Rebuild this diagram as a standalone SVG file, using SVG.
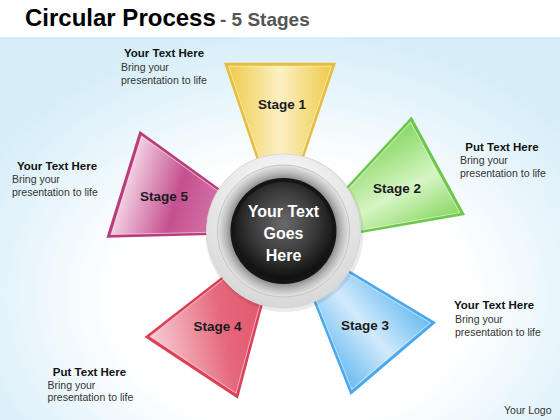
<svg xmlns="http://www.w3.org/2000/svg" xmlns:xlink="http://www.w3.org/1999/xlink" width="560" height="420" viewBox="0 0 560 420">
<defs>
<style>
.title{font-family:"Liberation Sans",Arial,sans-serif;font-weight:bold;font-size:24px;fill:#000}
.sub{font-family:"Liberation Sans",Arial,sans-serif;font-weight:bold;font-size:19px;fill:#555}
.hd{font-family:"Liberation Sans",Arial,sans-serif;font-weight:bold;font-size:11.5px;fill:#111;text-anchor:middle}
.bd{font-family:"Liberation Sans",Arial,sans-serif;font-size:10.5px;fill:#333}
.stg{font-family:"Liberation Sans",Arial,sans-serif;font-weight:bold;font-size:13.5px;fill:#1a1a22;text-anchor:middle}
.hub{font-family:"Liberation Sans",Arial,sans-serif;font-weight:bold;font-size:16px;fill:#fff;text-anchor:middle}
.inl{fill:none;stroke:#fff;stroke-opacity:0.55;stroke-width:1}
</style>
<radialGradient id="bg" cx="0.52" cy="0.7" r="0.62" fx="0.52" fy="0.72">
<stop offset="0.5" stop-color="#ffffff"/>
<stop offset="1" stop-color="#d7eef9"/>
</radialGradient>
<polygon id="trap" points="0,-56 0,56 -108,19.5 -108,-19.5"/>
<polygon id="trapIn" points="-3.5,-51.5 -3.5,51.5 -108,16.5 -108,-16.5"/>
<linearGradient id="gY" x1="0" y1="0" x2="0" y2="1"><stop offset="0" stop-color="#efcb4c"/><stop offset="0.5" stop-color="#fbf0c2"/><stop offset="1" stop-color="#efcb4c"/></linearGradient>
<linearGradient id="gG" x1="0" y1="0" x2="0" y2="1"><stop offset="0" stop-color="#8ad864"/><stop offset="0.55" stop-color="#d6f5c4"/><stop offset="1" stop-color="#8ad864"/></linearGradient>
<linearGradient id="gB" x1="0" y1="0" x2="0" y2="1"><stop offset="0" stop-color="#6bbcf2"/><stop offset="0.5" stop-color="#d2eafb"/><stop offset="1" stop-color="#6bbcf2"/></linearGradient>
<linearGradient id="gR" x1="0" y1="0" x2="1" y2="1"><stop offset="0" stop-color="#e04a62"/><stop offset="0.5" stop-color="#e6687c"/><stop offset="1" stop-color="#f7cdd5"/></linearGradient>
<linearGradient id="gM" x1="0" y1="0" x2="1" y2="0"><stop offset="0" stop-color="#d77aac"/><stop offset="0.5" stop-color="#c4508f"/><stop offset="1" stop-color="#f2cde0"/></linearGradient>
<radialGradient id="ringOut" cx="0.5" cy="0.3" r="0.75"><stop offset="0" stop-color="#ffffff"/><stop offset="1" stop-color="#d4d4d4"/></radialGradient>
<radialGradient id="ringMid" cx="0.5" cy="0.5" r="0.5"><stop offset="0.76" stop-color="#7a7a7a"/><stop offset="0.88" stop-color="#b8b8b8"/><stop offset="1" stop-color="#e6e6e6"/></radialGradient>
<radialGradient id="core" cx="0.5" cy="0.42" r="0.55"><stop offset="0" stop-color="#6a6a6a"/><stop offset="0.6" stop-color="#3a3a3a"/><stop offset="1" stop-color="#121212"/></radialGradient>
</defs>
<rect width="560" height="420" fill="url(#bg)"/>
<rect width="560" height="37" fill="#fff"/>
<g id="title">
<text x="25" y="26" class="title">Circular Process</text>
<text x="220" y="26" class="sub">- 5 Stages</text>
</g>
<g id="stage1" transform="translate(280,62.7) rotate(-90)">
<use href="#trap" fill="#e5bf3c"/><use href="#trapIn" fill="url(#gY)"/><use href="#trapIn" class="inl"/>
</g>
<g id="stage2" transform="translate(438.3,165.8) rotate(-28.5)">
<use href="#trap" fill="#6cc84a"/><use href="#trapIn" fill="url(#gG)"/><use href="#trapIn" class="inl"/>
</g>
<g id="stage3" transform="translate(393.3,358.8) rotate(49.7)">
<use href="#trap" fill="#4aa8ec"/><use href="#trapIn" fill="url(#gB)"/><use href="#trapIn" class="inl"/>
</g>
<g id="stage4" transform="translate(191.2,367.8) rotate(123.5)">
<use href="#trap" fill="#dc3f56"/><use href="#trapIn" fill="url(#gR)"/><use href="#trapIn" class="inl"/>
</g>
<g id="stage5" transform="translate(123,184.2) rotate(197.2)">
<use href="#trap" fill="#bb3c7c"/><use href="#trapIn" fill="url(#gM)"/><use href="#trapIn" class="inl"/>
</g>
<g id="stage-labels">
<text x="282" y="109" class="stg">Stage 1</text>
<text x="397" y="192.5" class="stg">Stage 2</text>
<text x="365" y="330" class="stg" fill="#15203a">Stage 3</text>
<text x="217.5" y="330.5" class="stg">Stage 4</text>
<text x="164" y="201" class="stg">Stage 5</text>
</g>
<g id="hub">
<circle cx="284.5" cy="233" r="79" fill="#000" opacity="0.08"/>
<circle cx="283.5" cy="231" r="77" fill="url(#ringOut)" stroke="#d8d8d8" stroke-width="1"/>
<circle cx="283.5" cy="231" r="66" fill="url(#ringMid)" stroke="#c4c4c4" stroke-width="1"/>
<circle cx="283.5" cy="231" r="53" fill="#151515"/>
<circle cx="283.5" cy="231" r="49" fill="url(#core)"/>
<text x="283.5" y="217" class="hub">Your Text</text>
<text x="283.5" y="239" class="hub">Goes</text>
<text x="283.5" y="261" class="hub">Here</text>
</g>
<g id="label1">
<text x="164" y="57" class="hd">Your Text Here</text>
<text x="121" y="70.5" class="bd">Bring your</text>
<text x="121" y="83.5" class="bd">presentation to life</text>
</g>
<g id="label2">
<text x="502" y="151" class="hd">Put Text Here</text>
<text x="460" y="164" class="bd">Bring your</text>
<text x="460" y="177" class="bd">presentation to life</text>
</g>
<g id="label3">
<text x="494" y="309" class="hd">Your Text Here</text>
<text x="455" y="322.5" class="bd">Bring your</text>
<text x="455" y="335.5" class="bd">presentation to life</text>
</g>
<g id="label4">
<text x="89.5" y="376" class="hd">Put Text Here</text>
<text x="47.5" y="388.5" class="bd">Bring your</text>
<text x="47.5" y="401" class="bd">presentation to life</text>
</g>
<g id="label5">
<text x="57" y="169.5" class="hd">Your Text Here</text>
<text x="12" y="183" class="bd">Bring your</text>
<text x="12" y="196" class="bd">presentation to life</text>
</g>
<g id="logo">
<text x="551.5" y="414" class="bd" text-anchor="end" font-size="9.8">Your Logo</text>
</g>
</svg>
